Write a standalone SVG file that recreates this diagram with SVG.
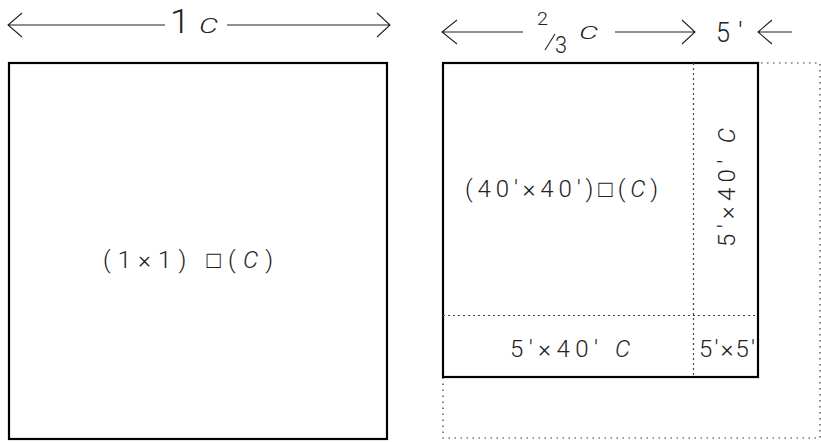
<svg xmlns="http://www.w3.org/2000/svg" width="821" height="442" viewBox="0 0 821 442">
<style>
.t{font-family:Roboto,"Liberation Sans",sans-serif;font-weight:300;fill:#222}
.i{font-style:italic}
.solid{fill:none;stroke:#000;stroke-width:2.2}
.dot{fill:none;stroke:#333;stroke-width:1.2;stroke-dasharray:1.5 4.5}
.dash{fill:none;stroke:#444;stroke-width:1.2;stroke-dasharray:2 3}
.arr{fill:none;stroke:#222;stroke-width:1.1}
</style>
<rect width="821" height="442" fill="#fff"/>
<g id="connectors">
  <path class="arr" d="M8,25 H165 M22,13 L8,25 L22,37 M227,25 H390 M377,13 L390,25 L377,37"/>
  <path class="arr" d="M442,32 H523 M457,20 L442,32 L457,44 M615,32 H695 M682,20 L695,32 L682,44 M758,32 H792 M772,20 L758,32 L772,44"/>
</g>
<g id="label-top-left">
  <text class="t" x="170" y="33" font-size="33" textLength="20" lengthAdjust="spacingAndGlyphs">1</text>
  <text class="t i" x="199" y="33" font-size="21" textLength="19" lengthAdjust="spacingAndGlyphs">C</text>
</g>
<g id="label-top-right">
  <text class="t" x="537" y="25" font-size="19" textLength="11" lengthAdjust="spacingAndGlyphs">2</text>
  <path class="arr" d="M545,50 L555,34" stroke-width="1"/>
  <text class="t" x="555" y="53" font-size="24" textLength="12" lengthAdjust="spacingAndGlyphs">3</text>
  <text class="t i" x="579" y="39" font-size="19" textLength="19" lengthAdjust="spacingAndGlyphs">C</text>
  <text class="t" x="716" y="42" font-size="28" textLength="14" lengthAdjust="spacingAndGlyphs">5</text>
  <text class="t" x="738" y="42" font-size="28">′</text>
</g>
<g id="square-1x1">
  <rect class="solid" x="9" y="63" width="378" height="376"/>
  <text class="t" x="103" y="268" font-size="24" textLength="170" lengthAdjust="spacing">(1×1)  □(<tspan class="i">C</tspan>)</text>
</g>
<g id="square-outer">
  <rect class="dot" x="443" y="63" width="377" height="375"/>
</g>
<g id="square-inner">
  <rect class="solid" x="443" y="63" width="315" height="314"/>
  <path class="dash" d="M693.5,63 V377 M443,315.5 H758"/>
</g>
<g id="region-40x40">
  <text class="t" x="465" y="197" font-size="24" textLength="193" lengthAdjust="spacing">(40′×40′)□(<tspan class="i">C</tspan>)</text>
</g>
<g id="region-5x40-bottom">
  <text class="t" x="510" y="357" font-size="24" textLength="120" lengthAdjust="spacing">5′×40′ <tspan class="i">C</tspan></text>
</g>
<g id="region-5x5">
  <text class="t" x="699" y="357" font-size="24" textLength="56" lengthAdjust="spacing">5′×5′</text>
</g>
<g id="region-5x40-right">
  <text class="t" transform="translate(735,247) rotate(-90)" font-size="24" textLength="119" lengthAdjust="spacing">5′×40′ <tspan class="i">C</tspan></text>
</g>
</svg>
